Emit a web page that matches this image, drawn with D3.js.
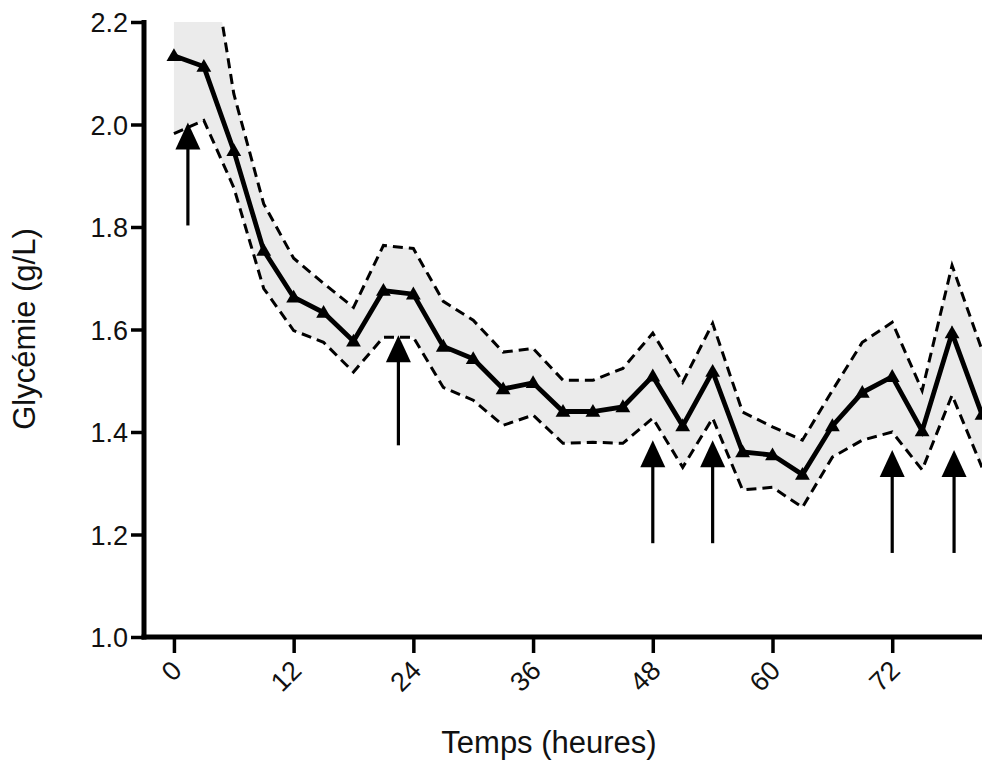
<!DOCTYPE html>
<html><head><meta charset="utf-8">
<script src="https://cdn.jsdelivr.net/npm/d3@7"></script>
<style>body{margin:0;background:#fff}svg{display:block;font-family:"Liberation Sans",Arial,Helvetica,sans-serif}</style>
</head><body>
<svg id="c" width="982" height="763"></svg>
<script>
const hours = [0,3,6,9,12,15,18,21,24,27,30,33,36,39,42,45,48,51,54,57,60,63,66,69,72,75,78,81];
const meanValues = [2.134,2.113,1.949,1.754,1.663,1.633,1.577,1.676,1.669,1.567,1.543,1.484,1.496,1.440,1.440,1.449,1.509,1.412,1.518,1.361,1.355,1.317,1.412,1.477,1.508,1.402,1.593,1.434];
const upperValues = [2.29,2.42,2.06,1.845,1.739,1.69,1.643,1.764,1.758,1.655,1.618,1.556,1.563,1.501,1.501,1.524,1.593,1.497,1.612,1.439,1.41,1.384,1.481,1.575,1.614,1.481,1.725,1.56];
const lowerValues = [1.982,2.008,1.877,1.68,1.598,1.575,1.517,1.585,1.585,1.487,1.462,1.413,1.433,1.378,1.38,1.378,1.427,1.331,1.427,1.287,1.292,1.253,1.351,1.384,1.40,1.326,1.472,1.331];
const arrowHours = [1.4,22.5,48,54,72,78.2];
const arrowTops = [2.004,1.589,1.384,1.384,1.365,1.365];
const arrowTails = [1.803,1.374,1.183,1.183,1.164,1.164];
const yTicks = [1.0,1.2,1.4,1.6,1.8,2.0,2.2];
const xTicks = [0,12,24,36,48,60,72];

const svg = d3.select("#c");
const x = d3.scaleLinear().domain([-3,81]).range([144,982]);
const y = d3.scaleLinear().domain([1.0,2.2]).range([637,22]);

const data = hours.map((h,i)=>({h, m:meanValues[i], u:upperValues[i], l:lowerValues[i]}));

svg.append("defs").append("clipPath").attr("id","clip")
  .append("rect").attr("x",144).attr("y",22).attr("width",838).attr("height",615);

const g = svg.append("g").attr("clip-path","url(#clip)");
g.append("path").datum(data)
  .attr("d", d3.area().x(d=>x(d.h)).y0(d=>y(d.l)).y1(d=>y(d.u)))
  .attr("fill","#ebebeb");
const dash = "10,6";
g.append("path").datum(data)
  .attr("d", d3.line().x(d=>x(d.h)).y(d=>y(d.u)))
  .attr("fill","none").attr("stroke","#000").attr("stroke-width",3).attr("stroke-dasharray",dash);
g.append("path").datum(data)
  .attr("d", d3.line().x(d=>x(d.h)).y(d=>y(d.l)))
  .attr("fill","none").attr("stroke","#000").attr("stroke-width",3).attr("stroke-dasharray",dash);
g.append("path").datum(data)
  .attr("d", d3.line().x(d=>x(d.h)).y(d=>y(d.m)))
  .attr("fill","none").attr("stroke","#000").attr("stroke-width",4.8).attr("stroke-linejoin","miter");
g.selectAll(".pt").data(data).join("path").attr("class","pt")
  .attr("transform",d=>`translate(${x(d.h)},${y(d.m)+1})`)
  .attr("d", d3.symbol(d3.symbolTriangle, 95)).attr("fill","#000");

// arrows
arrowHours.forEach((h,i)=>{
  const ax = x(h), top = y(arrowTops[i]), tail = y(arrowTails[i]);
  const hh = 27, hw = 12.5;
  svg.append("line").attr("x1",ax).attr("x2",ax).attr("y1",tail).attr("y2",top+hh-2)
    .attr("stroke","#000").attr("stroke-width",3.2);
  svg.append("path").attr("d",`M${ax},${top} L${ax+hw},${top+hh} L${ax-hw},${top+hh} Z`).attr("fill","#000");
});

// axes
const yAxis = svg.append("g").attr("transform","translate(144,0)")
  .call(d3.axisLeft(y).tickValues(yTicks).tickFormat(d3.format(".1f")).tickSize(13).tickSizeOuter(0));
yAxis.attr("font-family",null);
yAxis.select(".domain").attr("stroke-width",5).attr("d","M0,20V639.5");
yAxis.selectAll(".tick line").attr("stroke-width",3.5);
yAxis.selectAll(".tick text").attr("font-size",27).attr("fill","#111").attr("x",-16).attr("dy","0.36em");

const xAxis = svg.append("g").attr("transform","translate(0,637)")
  .call(d3.axisBottom(x).tickValues(xTicks).tickFormat(d3.format("d")).tickSize(16).tickSizeOuter(0));
xAxis.attr("font-family",null);
xAxis.select(".domain").attr("stroke-width",5).attr("d","M141.5,0H982");
xAxis.selectAll(".tick line").attr("stroke-width",3.5);
xAxis.selectAll(".tick text").attr("font-size",27).attr("fill","#111")
  .attr("text-anchor","end").attr("dy",null).attr("y",0)
  .attr("transform","translate(9,35) rotate(-45)");

svg.append("text").attr("transform","translate(35,329) rotate(-90)")
  .attr("text-anchor","middle").attr("font-size",31).attr("fill","#111").text("Glycémie (g/L)");
svg.append("text").attr("x",549).attr("y",753)
  .attr("text-anchor","middle").attr("font-size",31).attr("fill","#111").text("Temps (heures)");
</script>
</body></html>
